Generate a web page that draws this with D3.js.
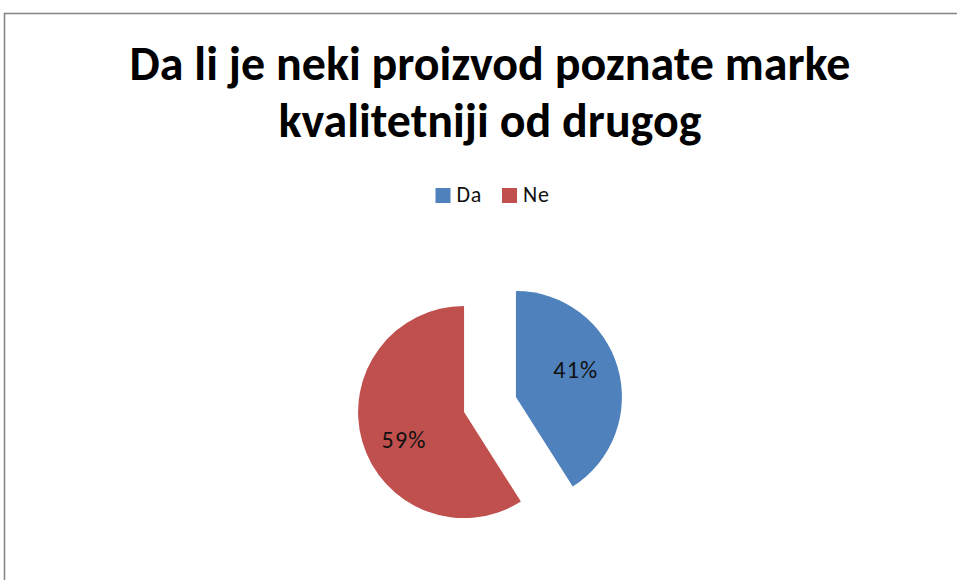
<!DOCTYPE html>
<html>
<head>
<meta charset="utf-8">
<script src="https://cdn.jsdelivr.net/npm/d3@7/dist/d3.min.js"></script>
<style>
html,body{margin:0;padding:0;background:#fff;}
svg{display:block;}
</style>
</head>
<body>
<svg id="chart" width="957" height="580"></svg>
<script>
const titleLines = ["Da li je neki proizvod poznate marke", "kvalitetniji od drugog"];
const categories = ["Da", "Ne"];
const values = [41, 59];
const colors = ["#4F81BD", "#C0504D"];

const svg = d3.select("#chart");
const W = 957, H = 580;

// frame
svg.append("rect").attr("x", 4.5).attr("y", 13.5).attr("width", W + 20).attr("height", H + 20)
  .attr("fill", "#fff").attr("stroke", "#878787").attr("stroke-width", 1.6);

const fontFam = "Carlito, Calibri, Lato, 'Open Sans', 'Liberation Sans', sans-serif";

// title
const cx = 490;
const t1 = svg.append("text").attr("x", cx).attr("y", 80).attr("text-anchor", "middle")
  .attr("font-family", fontFam).attr("font-weight", "bold").attr("font-size", 40).attr("fill", "#000")
  .text(titleLines[0]);
const w1 = t1.node().getComputedTextLength();
const fs = 40 * 721 / w1;
t1.attr("font-size", fs);
svg.append("text").attr("x", cx).attr("y", 137).attr("text-anchor", "middle")
  .attr("font-family", fontFam).attr("font-weight", "bold").attr("font-size", fs).attr("fill", "#000")
  .text(titleLines[1]);

// legend
const legend = svg.append("g");
const legX = [435.5, 502];
categories.forEach((c, i) => {
  legend.append("rect").attr("x", legX[i]).attr("y", 188).attr("width", 15).attr("height", 15)
    .attr("fill", colors[i]);
  legend.append("text").attr("x", legX[i] + 21).attr("y", 202).attr("font-family", fontFam)
    .attr("font-size", 22).attr("letter-spacing", 0.8).attr("fill", "#111").text(c);
});

// pie
const center = [490, 404.5];
const r = 106;
const explode = 27;
const pie = d3.pie().sort(null).value(d => d)(values);
const arc = d3.arc().innerRadius(0).outerRadius(r);
const labelR = 66, labelShift = -8.5 * Math.PI / 180;

const g = svg.append("g").attr("transform", `translate(${center[0]},${center[1]})`);
pie.forEach((p, i) => {
  const mid = (p.startAngle + p.endAngle) / 2;
  const dx = explode * Math.sin(mid), dy = -explode * Math.cos(mid);
  const sg = g.append("g").attr("transform", `translate(${dx},${dy})`);
  sg.append("path").attr("d", arc(p)).attr("fill", colors[i]);
  const la = mid + labelShift;
  sg.append("text").attr("x", labelR * Math.sin(la)).attr("y", -labelR * Math.cos(la))
    .attr("text-anchor", "middle").attr("dy", "0.36em")
    .attr("font-family", fontFam).attr("font-size", 24).attr("letter-spacing", 1.2).attr("fill", "#111")
    .text(Math.round(values[i] / d3.sum(values) * 100) + "%");
});
</script>
</body>
</html>
